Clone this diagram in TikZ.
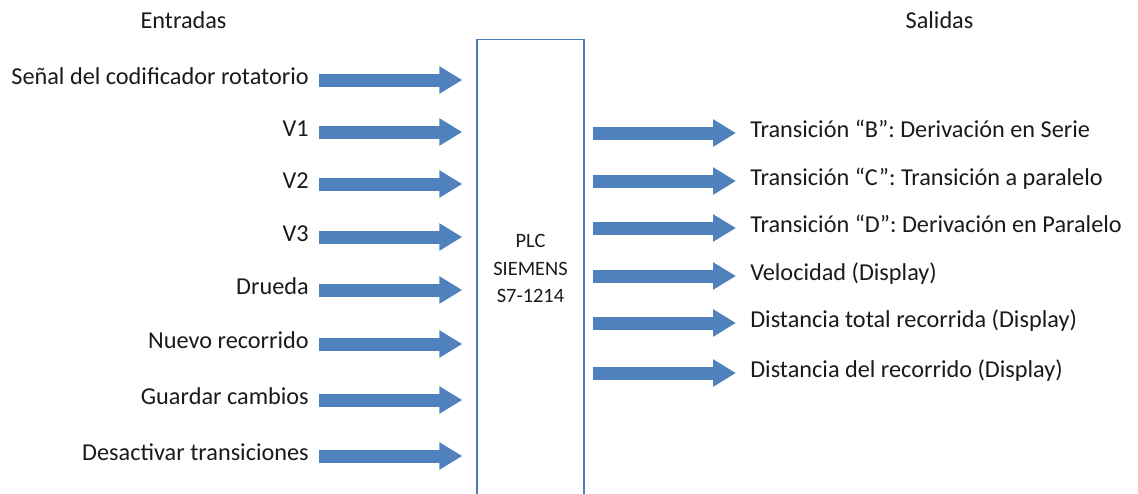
\documentclass[tikz,border=0pt]{standalone}
\usepackage{fontspec}
\setmainfont{Carlito}
\usetikzlibrary{arrows.meta}
\usetikzlibrary{positioning}
\definecolor{azul}{HTML}{4F81BD}
\definecolor{borde}{HTML}{4A7EBB}
\definecolor{texto}{HTML}{1A1A1A}
\tikzset{
  rotulo/.style={font=\fontsize{18.2}{22}\selectfont, text=texto, inner sep=0pt, text height=0.63em, text depth=0pt},
  entrada/.style={rotulo, anchor=east},
  salida/.style={rotulo, anchor=west},
  flecha/.style={draw=azul, line width=9.75pt, -{Triangle[length=17.25pt,width=19.5pt]}, shorten >=10.5pt}
}
\begin{document}
\begin{tikzpicture}[x=0.75pt,y=-0.75pt]
\clip (0,0) rectangle (1138,493);
\node[draw=borde, line width=1.1pt, minimum width=80.25pt, minimum height=343.5pt, anchor=north, align=center, text=texto, font=\fontsize{15.3}{20.5}\selectfont] (plc) at (530.5,39) {PLC\\SIEMENS\\S7-1214};

\node[rotulo] (entradas) at (183.5,24) {Entradas};
\node[rotulo] (salidas) at (939.5,24) {Salidas};

\node[entrada] (in1) at (309,80) {Señal del codificador rotatorio};
\node[entrada] (in2) at (309,132) {V1};
\node[entrada] (in3) at (309,184) {V2};
\node[entrada] (in4) at (309,237) {V3};
\node[entrada] (in5) at (309,290) {Drueda};
\node[entrada] (in6) at (309,344) {Nuevo recorrido};
\node[entrada] (in7) at (309,400) {Guardar cambios};
\node[entrada] (in8) at (309,456) {Desactivar transiciones};

\draw[flecha] ([xshift=7.5pt]in1.east) -- (plc.west |- in1);
\draw[flecha] ([xshift=7.5pt]in2.east) -- (plc.west |- in2);
\draw[flecha] ([xshift=7.5pt]in3.east) -- (plc.west |- in3);
\draw[flecha] ([xshift=7.5pt]in4.east) -- (plc.west |- in4);
\draw[flecha] ([xshift=7.5pt]in5.east) -- (plc.west |- in5);
\draw[flecha] ([xshift=7.5pt]in6.east) -- (plc.west |- in6);
\draw[flecha] ([xshift=7.5pt]in7.east) -- (plc.west |- in7);
\draw[flecha] ([xshift=7.5pt]in8.east) -- (plc.west |- in8);

\node[salida] (out1) at (750,133) {Transición “B”: Derivación en Serie};
\node[salida] (out2) at (750,181) {Transición “C”: Transición a paralelo};
\node[salida] (out3) at (750,228) {Transición “D”: Derivación en Paralelo};
\node[salida] (out4) at (750,276) {Velocidad (Display)};
\node[salida] (out5) at (750,323) {Distancia total recorrida (Display)};
\node[salida] (out6) at (750,373) {Distancia del recorrido (Display)};

\draw[flecha] ([xshift=6pt]plc.east |- out1) -- (out1.west);
\draw[flecha] ([xshift=6pt]plc.east |- out2) -- (out2.west);
\draw[flecha] ([xshift=6pt]plc.east |- out3) -- (out3.west);
\draw[flecha] ([xshift=6pt]plc.east |- out4) -- (out4.west);
\draw[flecha] ([xshift=6pt]plc.east |- out5) -- (out5.west);
\draw[flecha] ([xshift=6pt]plc.east |- out6) -- (out6.west);
\end{tikzpicture}
\end{document}
